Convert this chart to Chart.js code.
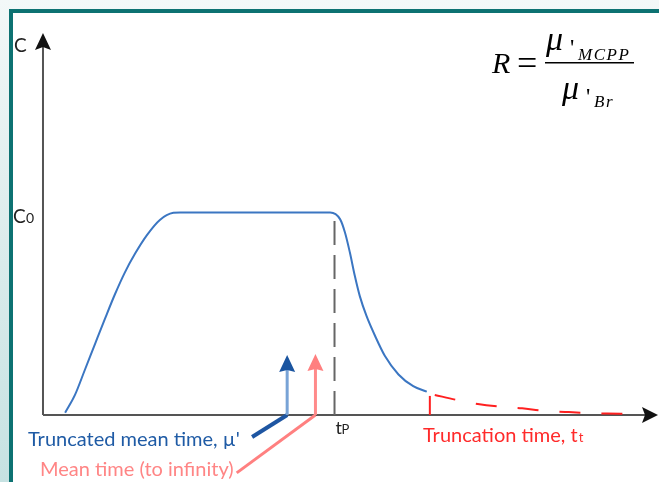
<!DOCTYPE html>
<html>
<head>
<meta charset="utf-8">
<script src="https://cdn.jsdelivr.net/npm/chart.js@4.4.1/dist/chart.umd.min.js"></script>
<style>
  html, body { margin: 0; padding: 0; }
  body {
    width: 659px; height: 482px; overflow: hidden; position: relative;
    background: linear-gradient(to bottom, #f3f8f8 0%, #dcecec 50%, #c6e2e2 100%);
  }
  #frame {
    position: absolute; left: 9px; top: 9px; right: 0; bottom: 0;
    border-left: 4px solid #0d7272; border-top: 4px solid #0d7272;
    background: #fff;
  }
  #chart { position: absolute; left: 0; top: 0; }
</style>
</head>
<body>
<div id="frame"></div>
<canvas id="chart" width="659" height="482"></canvas>
<script>
// time axis (arbitrary units), concentration relative to C0 = 1
var blueTime = [0.36, 0.52, 0.68, 0.85, 1.01, 1.17, 1.33, 1.50, 1.69, 1.90, 2.12, 2.23,
                4.67, 4.83, 4.91, 4.99, 5.07, 5.15, 5.26, 5.40, 5.56, 5.78, 6.02, 6.24];
var blueConc = [0.011, 0.099, 0.222, 0.354, 0.477, 0.596, 0.703, 0.798, 0.888, 0.963, 0.998, 1.0,
                1.0, 0.967, 0.901, 0.802, 0.687, 0.588, 0.489, 0.390, 0.291, 0.200, 0.142, 0.115];

// extrapolated tail after truncation
var tailTime = [6.37, 6.73, 7.07, 7.43, 7.79, 8.13, 8.49, 8.83, 9.17, 9.51];
var tailConc = [0.099, 0.074, 0.054, 0.041, 0.033, 0.021, 0.015, 0.010, 0.007, 0.005];

var tPeak = 4.74;          // tP
var tTrunc = 6.29;         // truncation time
var tMuTrunc = 3.97;       // truncated mean time
var tMuInf = 4.43;         // mean time to infinity
var arrowTop = [0.296, 0.301];
var leaderBlue = [3.40, -0.109];
var leaderPink = [3.15, -0.286];

var xMin = -0.699, xMax = 10.016;
var yMin = -0.331, yMax = 2.049;

var labels = {
    y: 'C',
    c0: 'C',
    tp: 't',
    muTrunc: 'Truncated mean time, \u00b5\'',
    muInf: 'Mean time (to infinity)',
    trunc: 'Truncation time, t'
};

function pts(xs, ys) {
    return xs.map(function (x, i) { return { x: x, y: ys[i] }; });
}

function seg(color, width, data, dash) {
    return {
        data: data, borderColor: color, borderWidth: width,
        borderDash: dash || [], pointRadius: 0, tension: 0, fill: false
    };
}

function drawHead(ctx, x, y, dir, len, half, notch, color) {
    // dir: 'up' or 'right'
    ctx.save();
    ctx.fillStyle = color;
    ctx.beginPath();
    if (dir === 'up') {
        ctx.moveTo(x, y);
        ctx.lineTo(x - half, y + len);
        ctx.lineTo(x, y + len - notch);
        ctx.lineTo(x + half, y + len);
    } else {
        ctx.moveTo(x, y);
        ctx.lineTo(x - len, y - half);
        ctx.lineTo(x - len + notch, y);
        ctx.lineTo(x - len, y + half);
    }
    ctx.closePath();
    ctx.fill();
    ctx.restore();
}

var decor = {
    id: 'decor',
    beforeDatasetsDraw: function (chart) {
        var ctx = chart.ctx, xs = chart.scales.x, ys = chart.scales.y;
        var x0 = xs.getPixelForValue(0), y0 = ys.getPixelForValue(0);
        var right = xs.getPixelForValue(xMax);
        ctx.save();
        ctx.strokeStyle = '#555';
        ctx.lineWidth = 2;
        ctx.beginPath();
        ctx.moveTo(x0, y0);
        ctx.lineTo(x0, 45);
        ctx.moveTo(x0, y0);
        ctx.lineTo(right - 10, y0);
        ctx.stroke();
        ctx.restore();
        drawHead(ctx, x0, 33, 'up', 17, 8, 3, '#111');
        drawHead(ctx, right - 1, y0, 'right', 16, 8, 3, '#111');
    },
    afterDatasetsDraw: function (chart) {
        var ctx = chart.ctx, xs = chart.scales.x, ys = chart.scales.y;
        drawHead(ctx, xs.getPixelForValue(tMuTrunc), ys.getPixelForValue(arrowTop[0]), 'up', 17, 8, 2, '#1b55a0');
        drawHead(ctx, xs.getPixelForValue(tMuInf), ys.getPixelForValue(arrowTop[1]), 'up', 17, 8, 2, '#ff7f7f');
    },
    afterDraw: function (chart) {
        var ctx = chart.ctx, xs = chart.scales.x;
        ctx.save();
        ctx.textBaseline = 'alphabetic';
        ctx.fillStyle = '#222';
        ctx.font = '19px Lato';
        ctx.fillText(labels.y, 14, 52);
        ctx.fillText(labels.c0, 13, 223);
        ctx.font = '14px Lato';
        ctx.fillText('0', 26, 223);
        var tpx = xs.getPixelForValue(tPeak);
        ctx.font = '18px Lato';
        ctx.fillText(labels.tp, tpx + 1, 434);
        ctx.font = '13px Lato';
        ctx.fillText('P', tpx + 7, 434);

        ctx.font = '20px Lato';
        ctx.fillStyle = '#1f5ba5';
        ctx.fillText(labels.muTrunc, 28, 446);
        ctx.fillStyle = '#ff8585';
        ctx.fillText(labels.muInf, 40, 476);
        ctx.fillStyle = '#ff2a2a';
        ctx.fillText(labels.trunc, 423, 442);
        var w = ctx.measureText(labels.trunc).width;
        ctx.font = '13px Lato';
        ctx.fillText('t', 423 + w + 1, 442);

        // ratio formula
        ctx.fillStyle = '#000';
        ctx.font = 'italic 30px "Liberation Serif"';
        ctx.fillText('R', 492, 73);
        ctx.font = '36px "Liberation Serif"';
        ctx.fillText('=', 517, 75);
        ctx.fillRect(545, 62, 89, 1.5);
        ctx.font = 'italic 34px "Liberation Serif"';
        ctx.fillText('\u03bc', 546, 50);
        ctx.fillText('\u03bc', 562, 99);
        ctx.font = '24px "Liberation Serif"';
        ctx.fillText('\'', 570, 55);
        ctx.fillText('\'', 586, 104);
        ctx.font = 'italic 17px "Liberation Serif"';
        ctx.letterSpacing = '1.5px';
        ctx.fillText('MCPP', 578, 60);
        ctx.fillText('Br', 594, 107);
        ctx.restore();
    }
};

new Chart(document.getElementById('chart'), {
    type: 'line',
    data: {
        datasets: [
            Object.assign(seg('#3b76c2', 2, pts(blueTime, blueConc)), { cubicInterpolationMode: 'monotone' }),
            Object.assign(seg('#ff2020', 2, pts(tailTime, tailConc), [21, 21]), { cubicInterpolationMode: 'monotone' }),
            seg('#ff2020', 2, [{ x: tTrunc, y: 0 }, { x: tTrunc, y: 0.094 }]),
            seg('#666', 2, [{ x: tPeak, y: 0 }, { x: tPeak, y: 0.97 }], [24, 10]),
            seg('#78a3d6', 3, [{ x: tMuTrunc, y: 0 }, { x: tMuTrunc, y: arrowTop[0] - 0.07 }]),
            seg('#ff8a8a', 3, [{ x: tMuInf, y: 0 }, { x: tMuInf, y: arrowTop[1] - 0.07 }]),
            seg('#1e56a2', 4, [{ x: tMuTrunc, y: 0 }, { x: leaderBlue[0], y: leaderBlue[1] }]),
            seg('#ff8080', 3, [{ x: tMuInf, y: 0 }, { x: leaderPink[0], y: leaderPink[1] }])
        ]
    },
    options: {
        responsive: false,
        animation: false,
        layout: { padding: 0 },
        plugins: { legend: { display: false }, tooltip: { enabled: false } },
        scales: {
            x: { type: 'linear', min: xMin, max: xMax, display: false },
            y: { type: 'linear', min: yMin, max: yMax, display: false }
        }
    },
    plugins: [decor]
});
</script>
</body>
</html>
